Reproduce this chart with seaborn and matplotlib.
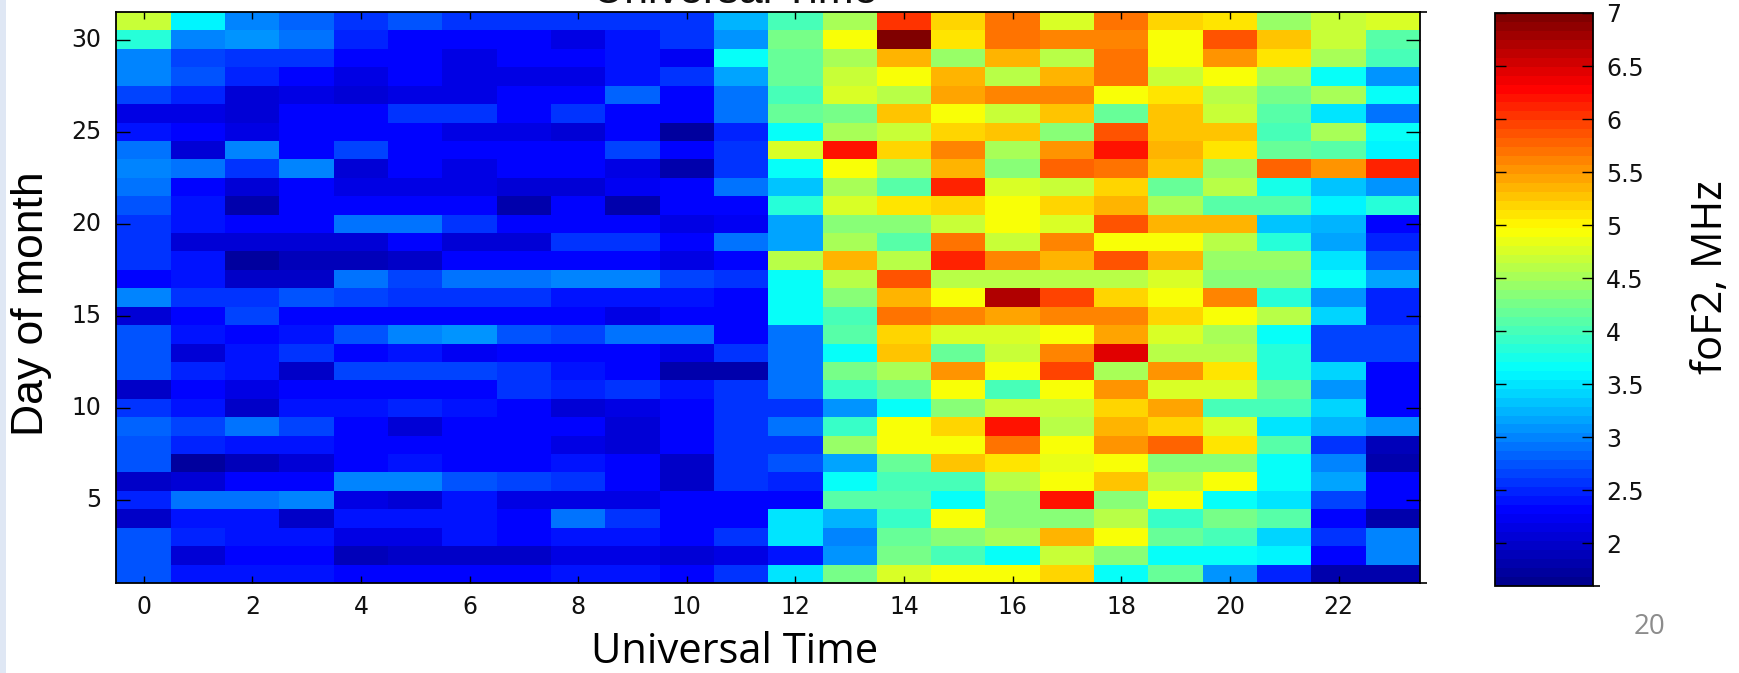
import numpy as np
import pandas as pd
import matplotlib
matplotlib.use("Agg")
import matplotlib.pyplot as plt
from matplotlib.colors import LinearSegmentedColormap
from matplotlib.patches import Rectangle
import seaborn as sns

hours = list(range(24))
days = list(range(31, 0, -1))
hour_ticks = [0, 2, 4, 6, 8, 10, 12, 14, 16, 18, 20, 22]
day_ticks = [30, 25, 20, 15, 10, 5]
cbar_ticks = [2, 2.5, 3, 3.5, 4, 4.5, 5, 5.5, 6, 6.5, 7]
cbar_labels = ["2", "2.5", "3", "3.5", "4", "4.5", "5", "5.5", "6", "6.5", "7"]

day31 = [4.70,3.58,3.03,2.83,2.58,2.78,2.53,2.58,2.53,2.53,2.53,3.23,3.99,4.52,6.07,5.17,5.67,4.74,5.67,5.22,5.12,4.43,4.66,4.79]
day30 = [3.86,3.03,3.08,2.88,2.48,2.28,2.28,2.28,2.11,2.38,2.53,3.08,4.30,4.97,7.0,5.12,5.72,5.62,5.62,4.97,5.82,5.27,4.66,4.12]
day29 = [3.03,2.68,2.58,2.58,2.28,2.28,2.16,2.28,2.28,2.38,2.22,3.63,4.17,4.52,5.32,4.43,5.32,4.61,5.72,4.97,5.52,5.12,4.48,4.03]
day28 = [2.98,2.78,2.48,2.28,2.16,2.28,2.11,2.11,2.11,2.38,2.53,3.18,4.17,4.70,4.97,5.37,4.61,5.37,5.67,4.70,4.97,4.48,3.63,3.08]
day27 = [2.63,2.48,2.05,2.11,2.05,2.11,2.11,2.28,2.28,2.83,2.28,2.88,3.99,4.74,4.57,5.47,5.62,5.57,4.97,5.12,4.57,4.30,4.48,3.63]
day26 = [2.11,2.11,2.05,2.28,2.28,2.58,2.53,2.28,2.58,2.33,2.28,2.88,4.17,4.30,5.27,4.97,4.70,5.27,4.17,5.27,4.70,4.12,3.53,2.93]
day25 = [2.43,2.28,2.11,2.28,2.28,2.33,2.11,2.11,2.05,2.33,1.71,2.48,3.63,4.52,4.66,5.22,5.27,4.34,5.82,5.27,5.27,3.99,4.48,3.68]
day24 = [2.88,2.05,3.03,2.33,2.68,2.28,2.28,2.28,2.33,2.68,2.28,2.53,4.79,6.22,5.17,5.62,4.52,5.52,6.17,5.32,5.12,4.17,4.08,3.58]
day23 = [3.03,2.88,2.58,2.98,2.05,2.28,2.16,2.28,2.28,2.11,1.77,2.53,3.68,4.97,4.48,5.37,4.34,5.77,5.72,5.27,4.39,5.77,5.52,6.12]
day22 = [2.93,2.28,2.05,2.28,2.11,2.11,2.11,2.05,2.05,2.22,2.28,2.88,3.33,4.48,4.12,6.12,4.74,4.70,5.22,4.17,4.57,3.77,3.33,3.08]
day21 = [2.78,2.43,1.77,2.28,2.28,2.28,2.28,1.77,2.28,1.83,2.28,2.28,3.86,4.79,5.12,5.22,4.97,5.17,5.32,4.48,4.08,4.08,3.58,3.86]
day20 = [2.58,2.43,2.33,2.33,2.88,2.93,2.58,2.33,2.33,2.28,2.11,2.22,3.13,4.34,4.34,4.70,4.97,4.79,5.82,5.37,5.37,3.33,3.28,2.28]
day19 = [2.58,2.05,2.05,2.05,2.05,2.28,2.05,2.05,2.58,2.58,2.28,2.88,3.13,4.52,4.08,5.67,4.66,5.57,4.97,4.97,4.57,3.86,3.13,2.48]
day18 = [2.58,2.38,1.71,1.88,1.88,1.94,2.28,2.28,2.28,2.28,2.16,2.28,4.57,5.32,4.57,6.12,5.62,5.37,5.82,5.37,4.39,4.39,3.53,2.78]
day17 = [2.28,2.43,1.94,1.94,2.88,2.68,2.93,2.93,3.03,3.03,2.68,2.58,3.63,4.57,5.82,4.61,4.61,4.61,4.61,4.79,4.34,4.34,3.68,3.13]
day16 = [3.03,2.58,2.53,2.78,2.63,2.58,2.53,2.53,2.43,2.43,2.43,2.33,3.68,4.34,5.37,4.97,6.72,5.92,5.22,4.97,5.62,3.86,3.08,2.48]
day15 = [2.05,2.33,2.68,2.28,2.33,2.33,2.28,2.28,2.28,2.11,2.28,2.28,3.63,4.03,5.67,5.62,5.47,5.62,5.62,5.17,4.97,4.57,3.38,2.48]
day14 = [2.78,2.38,2.28,2.38,2.78,2.98,3.08,2.78,2.68,2.88,2.93,2.33,2.93,4.12,5.17,4.79,4.79,4.97,5.47,4.79,4.52,3.68,2.63,2.63]
day13 = [2.78,2.05,2.38,2.58,2.28,2.38,2.22,2.33,2.28,2.28,2.11,2.53,2.88,3.63,5.27,4.17,4.70,5.62,6.49,4.61,4.61,3.86,2.63,2.63]
day12 = [2.78,2.48,2.38,1.99,2.68,2.63,2.63,2.53,2.38,2.33,1.77,1.77,2.88,4.26,4.52,5.52,4.97,5.92,4.52,5.52,5.12,3.86,3.38,2.28]
day11 = [1.99,2.28,2.11,2.33,2.28,2.28,2.33,2.53,2.48,2.53,2.38,2.53,2.88,3.90,4.17,4.97,3.99,4.97,5.52,4.79,4.79,4.17,3.08,2.28]
day10 = [2.58,2.43,1.99,2.38,2.38,2.48,2.38,2.28,2.05,2.11,2.28,2.53,2.53,3.08,3.63,4.34,4.70,4.70,5.22,5.47,3.99,3.99,3.38,2.28]
day09 = [2.83,2.68,2.88,2.68,2.33,2.05,2.28,2.28,2.28,2.05,2.28,2.53,2.93,3.90,4.97,5.22,6.22,4.57,5.32,5.17,4.79,3.48,3.23,3.08]
day08 = [2.78,2.48,2.38,2.38,2.28,2.28,2.28,2.28,2.11,2.05,2.28,2.53,2.58,4.39,4.97,4.97,5.67,4.97,5.52,5.77,5.12,4.08,2.53,1.88]
day07 = [2.78,1.71,1.88,2.05,2.28,2.43,2.28,2.28,2.43,2.33,1.99,2.53,2.78,3.18,4.21,5.27,5.12,4.83,4.97,4.34,4.34,3.68,3.03,1.77]
day06 = [1.94,2.05,2.28,2.28,3.03,3.03,2.78,2.63,2.58,2.28,1.99,2.53,2.48,3.68,3.99,3.99,4.57,4.97,5.27,4.61,4.97,3.68,3.13,2.28]
day05 = [2.48,2.88,2.93,3.03,2.11,2.05,2.38,2.16,2.11,2.16,2.28,2.28,2.28,4.08,4.08,3.68,4.34,6.22,4.34,4.97,3.63,3.48,2.63,2.28]
day04 = [1.99,2.43,2.38,1.99,2.38,2.38,2.38,2.28,2.93,2.58,2.28,2.28,3.48,3.23,3.90,4.97,4.34,4.34,4.57,3.90,4.30,4.08,2.33,1.77]
day03 = [2.78,2.48,2.43,2.43,2.16,2.16,2.38,2.28,2.43,2.43,2.33,2.58,3.48,3.03,4.17,4.34,4.48,5.32,4.97,4.17,3.99,3.43,2.58,2.98]
day02 = [2.78,2.05,2.28,2.28,1.88,1.99,1.99,1.94,2.11,2.11,2.05,2.11,2.38,3.08,4.30,3.99,3.68,4.66,4.34,3.63,3.68,3.58,2.28,2.98]
day01 = [2.78,2.43,2.38,2.38,2.33,2.33,2.33,2.28,2.38,2.38,2.28,2.58,3.48,4.30,4.79,4.97,4.97,5.17,3.63,4.17,3.08,2.48,1.77,1.77]

rows = [day31, day30, day29, day28, day27, day26, day25, day24, day23, day22, day21,
        day20, day19, day18, day17, day16, day15, day14, day13, day12, day11, day10,
        day09, day08, day07, day06, day05, day04, day03, day02, day01]
table = pd.DataFrame(rows, index=days, columns=hours)

# MATLAB-style jet, 64 levels
matlab_jet = LinearSegmentedColormap.from_list(
    "matlab_jet",
    [(0.0, (0, 0, 0.5625)), (0.125, (0, 0, 1)), (0.375, (0, 1, 1)),
     (0.625, (1, 1, 0)), (0.875, (1, 0, 0)), (1.0, (0.5, 0, 0))],
    N=64,
)

W, H = 1740, 673
sns.set_theme(style="white")
plt.rcParams["axes.linewidth"] = 1.3
fig = plt.figure(figsize=(W / 100, H / 100), dpi=100, facecolor="white")
ax = fig.add_axes([116.5 / W, 1 - 583 / H, (1420 - 116.5) / W, 571 / H])
cax = fig.add_axes([1495.5 / W, 1 - 585.5 / H, 98 / W, 572.5 / H])

sns.heatmap(table, ax=ax, cbar_ax=cax, cmap=matlab_jet, vmin=1.6, vmax=7, linewidths=0)

TICK_FONT = "DejaVu Sans"
TICK_SIZE = 17

ax.set_axisbelow(False)
cax.set_axisbelow(False)
ax.set_xticks([h + 0.5 for h in hour_ticks])
ax.set_xticklabels([str(h) for h in hour_ticks], rotation=0, fontsize=TICK_SIZE,
                   family=TICK_FONT, color="#111111")
ax.set_yticks([days.index(d) + 0.5 for d in day_ticks])
ax.set_yticklabels([str(d) for d in day_ticks], rotation=0, fontsize=TICK_SIZE,
                   family=TICK_FONT, color="#111111")
ax.tick_params(axis="x", direction="in", length=5, width=1, color="black", bottom=True, top=True, pad=9)
ax.tick_params(axis="y", direction="in", length=10, width=1, color="black", left=True, right=True, pad=11)
ax.set_xlabel("")
ax.set_ylabel("")
for s in ax.spines.values():
    s.set_visible(True)
    s.set_color("black")
    s.set_linewidth(1.3)
ax.yaxis.set_ticks([0, 31], minor=True)
ax.tick_params(axis="y", which="minor", direction="out", length=5, width=1.2,
               left=False, right=True, color="black")

cbar = ax.collections[0].colorbar
cbar.set_ticks(cbar_ticks)
cbar.set_ticklabels(cbar_labels)
cax.tick_params(axis="y", which="major", direction="in", length=8, width=1, color="black",
                left=True, right=True, labelsize=TICK_SIZE, labelcolor="#111111", pad=9)
cax.yaxis.set_ticks([1.6, 7], minor=True)
cax.tick_params(axis="y", which="minor", direction="out", length=5, width=1.2,
                left=False, right=True, color="black")
for lab in cax.get_yticklabels():
    lab.set_family(TICK_FONT)
cbar.outline.set_visible(True)
cbar.outline.set_edgecolor("black")
cbar.outline.set_linewidth(1.3)

def px(x, y):
    return x / W, 1 - y / H

fig.text(*px(735, 3), "Universal Time", fontsize=31, family="Liberation Sans", ha="center",
         va="baseline", color="#111111")
fig.text(*px(735, 652), "Universal Time", fontsize=30, family="Open Sans", ha="center",
         va="center", color="black")
fig.text(*px(32, 304), "Day of month", fontsize=32, family="Liberation Sans", rotation=90,
         ha="center", va="center", color="black")
fig.text(*px(1711, 277), "foF2, MHz", fontsize=30, family="Open Sans", rotation=90,
         ha="center", va="center", color="black")
fig.text(*px(1650, 627), "20", fontsize=20, family="Open Sans", ha="center", va="center",
         color="#8c8c8c")

fig.add_artist(Rectangle((0, 0), 6 / W, 1, transform=fig.transFigure, facecolor="#dfe7f4",
                         edgecolor="none"))

fig.savefig("out.png", dpi=100, facecolor="white")
